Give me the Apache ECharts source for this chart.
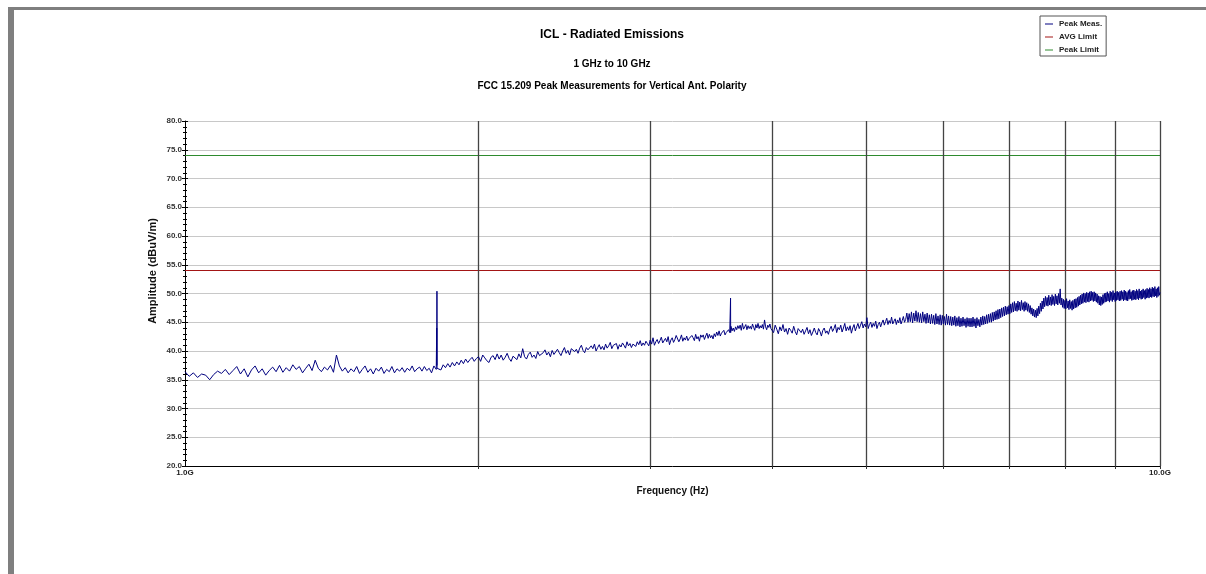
<!DOCTYPE html>
<html><head><meta charset="utf-8">
<script src="https://cdn.jsdelivr.net/npm/echarts@6/dist/echarts.min.js"></script>
<style>html,body{margin:0;padding:0;background:#fff}#c{width:1206px;height:574px}</style>
</head><body><div id="c"></div>
<script>
// ---------- text ----------
const titleText = 'ICL - Radiated Emissions';
const subTitle1 = '1 GHz to 10 GHz';
const subTitle2 = 'FCC 15.209 Peak Measurements for Vertical Ant. Polarity';
const xAxisName = 'Frequency (Hz)';
const yAxisName = 'Amplitude (dBuV/m)';
const seriesNames = ['Peak Meas.', 'AVG Limit', 'Peak Limit'];

// ---------- axes ----------
const freqRangeGHz = [1, 10];
const ampRange = [20, 80];
const ampInterval = 5;
const decadeGridGHz = [2, 3, 4, 5, 6, 7, 8, 9, 10];

// ---------- limits (dBuV/m) ----------
const avgLimit = 54.0;
const peakLimit = 74.0;

// ---------- peak measurement sweep (GHz, dBuV/m) ----------
const sweep1Start = 1.00, sweep1Step = 0.01;
const sweep1 = [
 36.4,35.6,36.2,35.4,36.0,35.8,35.0,35.9,36.5,36.1,
 36.8,35.9,36.6,37.3,36.0,36.9,35.5,36.7,37.4,36.2,
 36.9,35.8,36.6,37.2,36.4,37.5,36.3,37.1,36.5,37.6,
 36.8,37.3,36.2,37.0,37.7,36.6,38.4,37.0,36.4,37.2,
 36.7,37.5,36.3,39.3,37.4,36.5,37.1,36.2,36.9,36.4,
 37.3,36.1,36.8,37.4,36.3,36.9,36.0,37.0,36.5,37.2,
 36.1,36.8,36.4,37.3,36.2,36.9,36.5,37.1,36.3,37.0,
 36.6,37.4,36.4,36.9,37.2,36.5,37.3,36.6,37.0,36.2,
 37.4,36.8,37.3,36.7,37.6,37.1,37.8,37.2,38.0,37.4,
 38.1,37.6,38.4,37.8,38.6,38.0,38.5,38.9,38.2,38.7];
const sweep2Start = 2.00, sweep2Step = 0.01;
const sweep2 = [
 39.0,38.2,39.3,38.8,38.3,38.0,38.9,39.2,38.5,39.5,
 38.6,39.3,38.4,38.9,39.6,38.7,38.2,39.1,39.4,38.5,
 39.5,38.8,40.4,39.0,38.6,39.4,39.8,38.9,39.3,38.7,
 39.9,39.2,38.9,39.7,40.2,39.3,39.8,39.0,40.1,39.4,
 39.5,40.3,39.7,39.2,40.0,40.6,39.6,40.1,39.3,40.4,
 40.7,39.9,40.3,39.6,40.5,41.0,40.1,39.7,40.6,40.2,
 40.1,40.9,40.4,41.2,40.0,40.6,41.1,40.3,40.8,40.2,
 41.2,40.5,40.9,41.5,40.4,41.0,40.7,41.3,40.3,41.1,
 40.7,41.4,41.0,40.5,41.6,40.9,41.3,40.6,41.2,41.5,
 40.8,41.6,41.1,41.8,40.9,41.4,41.0,41.7,41.3,40.9,
 41.9,41.2,42.3,41.0,41.6,42.0,41.3,41.8,42.4,41.4,
 41.3,42.2,41.6,42.5,41.1,41.9,42.3,41.5,42.0,42.7,
 42.4,41.6,42.1,42.8,41.7,42.3,41.9,42.6,41.8,42.2,
 41.9,42.7,42.3,41.8,42.9,42.1,42.5,41.7,42.8,42.4,
 42.8,42.0,42.6,43.1,42.2,42.9,42.3,42.7,42.1,43.0,
 42.5,43.3,42.7,43.5,42.6,43.1,42.9,43.6,42.8,43.2,
 43.0,43.7,43.2,44.3,43.5,44.0,43.4,44.2,43.7,44.4,
 43.9,44.5,43.6,44.8,43.8,44.2,44.6,43.7,44.4,43.9,
 44.3,43.8,44.7,44.1,43.6,44.6,44.0,44.8,43.9,44.4,
 44.0,44.6,43.8,45.4,44.2,43.7,44.5,44.1,44.7,43.9];
const sweep3Start = 4.000, sweep3Step = 0.015;
const sweep3 = [
 44.1,43.2,44.5,43.8,43.0,44.2,43.5,44.6,43.3,43.9,42.9,44.0,43.6,43.1,44.3,43.4,42.8,43.9,44.2,43.2,
 43.8,42.9,43.5,44.1,43.0,43.7,42.7,43.3,44.0,43.2,42.8,43.9,43.4,42.6,43.6,44.0,43.1,43.5,42.9,43.8,
 44.3,43.4,43.9,44.6,43.2,44.1,43.7,44.5,43.3,44.0,44.8,43.5,44.2,43.6,44.4,43.1,44.0,44.6,43.5,44.2,
 44.8,43.9,44.5,45.1,44.0,44.7,44.2,45.8,43.9,44.6,45.0,44.1,44.8,44.3,45.2,43.9,44.6,45.0,44.2,44.9,
 45.4,44.5,45.1,45.7,44.6,45.3,44.8,45.9,44.7,45.2,45.6,44.6,45.4,44.9,45.8,44.7,45.3,46.0,45.0,45.5,
 46.6,45.0,46.5,45.1,46.8,44.9,46.6,45.2,47.0,45.1,46.7,45.0,46.5,44.9,46.8,45.1,46.4,44.8,46.6,44.9,
 46.3,44.7,46.4,44.8,46.2,44.6,46.5,44.7,46.1,44.6,46.3,44.5,46.2,44.7,46.0,44.5,46.4,44.6,46.1,44.5,
 46.0,44.4,45.9,44.5,46.1,44.3,45.8,44.4,46.0,44.2,45.7,44.3,45.9,44.4,45.6,44.1,45.8,44.3,45.7,44.2,
 45.7,44.2,45.9,44.3,45.6,44.0,45.8,44.4,45.5,44.2,45.9,44.5,46.1,44.6,46.0,44.7,46.3,44.8,46.4,45.0,
 46.5,45.0,46.7,45.2,46.8,45.4,47.0,45.5,47.2,45.6,47.3,45.8,47.5,46.0,47.6,46.1,47.8,46.3,47.7,46.4,
 47.9,46.5,48.2,46.7,48.4,46.8,48.6,47.0,48.3,46.9,48.7,47.1,48.5,47.0,48.8,47.2,48.4,46.9,48.6,47.1,
 48.4,46.9,48.2,46.7,47.9,46.4,47.5,46.1,47.3,45.9,47.1,45.8,47.4,46.1,47.8,46.5,48.3,46.9,48.7,47.3,
 49.2,47.7,49.5,47.9,49.3,47.8,49.7,48.0,49.4,47.9,49.8,48.1,49.5,47.9,49.9,48.2,49.6,48.0,50.0,48.3,
 50.8,48.0,49.2,47.6,49.0,47.4,48.8,47.3,49.1,47.5,48.7,47.2,48.9,47.4,48.6,47.1,48.8,47.3,49.0,47.5,
 49.1,47.6,49.3,47.8,49.5,48.0,49.7,48.2,49.9,48.3,50.1,48.5,50.0,48.4,50.2,48.6,50.1,48.5,50.3,48.7,
 50.4,48.8,50.2,48.6,50.3,48.7,50.1,48.5,49.9,48.3,49.6,48.0,49.5,47.9,49.4,48.1,49.8,48.3,50.0,48.5,
 50.1,48.6,50.3,48.7,50.0,48.5,50.4,48.8,50.2,48.6,50.5,48.9,50.1,48.6,50.3,48.8,50.4,48.9,50.2,48.7,
 50.4,48.8,50.5,49.0,50.3,48.7,50.6,48.9,50.4,48.8,50.2,48.7,50.5,49.0,50.7,49.1,50.3,48.8,50.5,48.9,
 50.6,49.0,50.4,48.9,50.7,49.1,50.5,48.9,50.8,49.2,50.4,49.0,50.6,49.1,50.8,49.3,50.5,49.0,50.7,49.2,
 50.9,49.3,50.7,49.2,51.0,49.4,50.8,49.3,51.1,49.5,50.9,49.4,51.2,49.6,50.8,49.3,51.0,49.5,51.2,49.7,
 50.2];
// narrow spurs captured between sweep points
const spurFreqGHz = [1.8120, 1.8125, 1.8130, 1.8135, 3.6270, 3.6280];
const spurAmp     = [44.0,   37.5,   50.4,   37.0,   49.2,   43.2];

// ---------- build ----------
function sweepPoints(start, step, vals) {
  return vals.map((v, i) => [+(start + i * step).toFixed(4), v]);
}
const peakData = []
  .concat(sweepPoints(sweep1Start, sweep1Step, sweep1))
  .concat(sweepPoints(sweep2Start, sweep2Step, sweep2))
  .concat(sweepPoints(sweep3Start, sweep3Step, sweep3))
  .concat(spurFreqGHz.map((f, i) => [f, spurAmp[i]]))
  .sort((a, b) => a[0] - b[0]);

const FONT = '"Liberation Sans", Arial, Helvetica, sans-serif';
const chart = echarts.init(document.getElementById('c'), null, {renderer: 'canvas'});

const yCommon = {
  type: 'value', min: ampRange[0], max: ampRange[1], interval: ampInterval
};

chart.setOption({
  animation: false,
  backgroundColor: '#ffffff',
  textStyle: {fontFamily: FONT},
  grid: {left: 185, top: 121, width: 975, height: 345, containLabel: false},
  legend: {
    orient: 'vertical', left: 1040, top: 16,
    padding: [4, 4, 2, 5], itemGap: 5,
    itemWidth: 8, itemHeight: 1, icon: 'rect',
    borderColor: '#555', borderWidth: 1, backgroundColor: '#fff',
    textStyle: {fontSize: 8, fontWeight: 'bold', color: '#222', fontFamily: FONT, padding: [0, 0, 0, 1]},
    data: seriesNames
  },
  xAxis: {
    type: 'log', logBase: 10, min: freqRangeGHz[0], max: freqRangeGHz[1],
    name: xAxisName, nameLocation: 'middle', nameGap: 20,
    nameTextStyle: {fontSize: 10, fontWeight: 'bold', color: '#111', fontFamily: FONT},
    axisLine: {show: true, lineStyle: {color: '#000', width: 1}},
    axisTick: {show: true, length: 3, lineStyle: {color: '#333'}, customValues: decadeGridGHz},
    axisLabel: {show: true, fontSize: 8, fontWeight: 'bold', color: '#222', margin: 3,
      formatter: v => (+v).toFixed(1) + 'G'},
    splitLine: {show: false}
  },
  yAxis: [
    Object.assign({}, yCommon, {
      axisLine: {show: true, lineStyle: {color: '#000', width: 1}},
      axisTick: {show: true, length: 3, lineStyle: {color: '#000'}},
      minorTick: {show: true, splitNumber: 5, length: 2, lineStyle: {color: '#000'}},
      axisLabel: {fontSize: 8, fontWeight: 'bold', color: '#333', margin: 3,
        formatter: v => (+v).toFixed(1)},
      splitLine: {show: true, lineStyle: {color: '#c8c8c8', width: 1}}
    }),
    Object.assign({}, yCommon, {
      position: 'left',
      axisLine: {show: false},
      axisTick: {show: true, inside: true, length: 3, lineStyle: {color: '#000'}},
      minorTick: {show: true, splitNumber: 5, length: 2, lineStyle: {color: '#000'}},
      axisLabel: {show: false},
      splitLine: {show: false}
    })
  ],
  graphic: [
    {type: 'rect', shape: {x: 8, y: 7, width: 1198, height: 3}, style: {fill: '#7f7f7f'}, silent: true},
    {type: 'rect', shape: {x: 8, y: 7, width: 6, height: 567}, style: {fill: '#7f7f7f'}, silent: true},
    {type: 'text', x: 612, y: 35, silent: true,
      style: {text: titleText, font: 'bold 12px ' + FONT, fill: '#000', textAlign: 'center', textVerticalAlign: 'middle'}},
    {type: 'text', x: 612, y: 64, silent: true,
      style: {text: subTitle1, font: 'bold 10px ' + FONT, fill: '#000', textAlign: 'center', textVerticalAlign: 'middle'}},
    {type: 'text', x: 612, y: 86, silent: true,
      style: {text: subTitle2, font: 'bold 10px ' + FONT, fill: '#000', textAlign: 'center', textVerticalAlign: 'middle'}},
    {type: 'text', x: 153, y: 271, rotation: Math.PI / 2, silent: true,
      style: {text: yAxisName, font: 'bold 11px ' + FONT, fill: '#111', textAlign: 'center', textVerticalAlign: 'middle'}}
  ],
  series: [
    {
      name: seriesNames[0], type: 'line', data: peakData,
      showSymbol: false, symbol: 'none', z: 5, sampling: null,
      lineStyle: {color: '#000080', width: 1},
      itemStyle: {color: '#000080'},
      emphasis: {disabled: true}
    },
    {
      name: seriesNames[1], type: 'line',
      data: [[freqRangeGHz[0], avgLimit], [freqRangeGHz[1], avgLimit]],
      showSymbol: false, symbol: 'none', z: 3,
      lineStyle: {color: '#a31515', width: 1},
      itemStyle: {color: '#a31515'},
      emphasis: {disabled: true},
      markLine: {
        silent: true, symbol: ['none', 'none'], label: {show: false},
        lineStyle: {color: '#444', width: 1.3, type: 'solid'},
        emphasis: {disabled: true},
        data: decadeGridGHz.map(v => ({xAxis: v}))
      }
    },
    {
      name: seriesNames[2], type: 'line',
      data: [[freqRangeGHz[0], peakLimit], [freqRangeGHz[1], peakLimit]],
      showSymbol: false, symbol: 'none', z: 3,
      lineStyle: {color: '#2e8b2e', width: 1},
      itemStyle: {color: '#2e8b2e'},
      emphasis: {disabled: true}
    }
  ]
});
</script>
</body></html>
